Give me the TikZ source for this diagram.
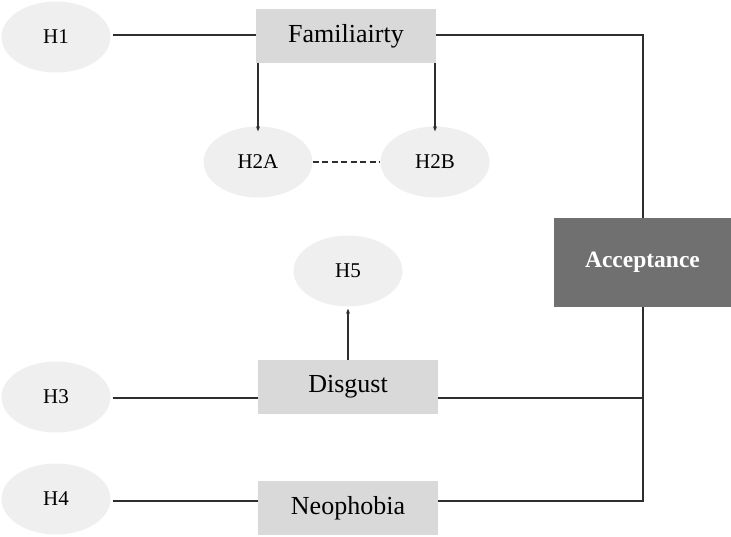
\documentclass[tikz,border=0pt]{standalone}
\usepackage{fontspec}
\setmainfont{Liberation Serif}
\usetikzlibrary{arrows.meta,shapes.geometric}
\definecolor{ellfill}{HTML}{F0EFEF}
\definecolor{boxfill}{HTML}{D9D9D9}
\definecolor{accfill}{HTML}{707070}
\definecolor{linec}{HTML}{2E2E2E}
\begin{document}
\begin{tikzpicture}[x=1pt,y=-1pt,
  hyp/.style={ellipse,fill=ellfill,minimum width=109pt,minimum height=71pt,inner sep=0pt,font=\fontsize{21}{24}\selectfont,text=black},
  factor/.style={rectangle,fill=boxfill,minimum width=180pt,minimum height=54pt,inner sep=0pt,font=\fontsize{26}{29}\selectfont,text=black},
  accbox/.style={rectangle,fill=accfill,minimum width=177pt,minimum height=89pt,inner sep=0pt,font=\bfseries\fontsize{23.5}{26}\selectfont,text=white},
  conn/.style={draw=linec,line width=1.3pt},
  arr/.style={conn,-{Stealth[length=5pt,width=4pt]}}]
\path[use as bounding box] (0,0) rectangle (731,536);
% nodes
\node[hyp] (h1) at (56,37) {H1};
\node[factor] (fam) at (346,36) {Familiairty};
\node[hyp] (h2a) at (258,162) {H2A};
\node[hyp] (h2b) at (435,162) {H2B};
\node[hyp] (h5) at (348,271) {H5};
\node[hyp] (h3) at (56,397) {H3};
\node[factor] (dis) at (348,387) {Disgust};
\node[hyp] (h4) at (56,499) {H4};
\node[factor] (neo) at (348,508) {Neophobia};
\node[accbox] (acc) at (642.5,262.5) {Acceptance};
% helper coordinates
\coordinate (c1) at (643,35);
\coordinate (c3) at (643,398);
\coordinate (c4) at (643,501);
% connectors
\draw[conn] ([xshift=2pt]h1.east |- c1) -- (fam.west |- c1);
\draw[conn] (fam.east |- c1) -- (c1) -- (acc.north -| c1);
\draw[arr,line width=1.1pt] (fam.south -| h2a) -- ([yshift=-5pt]h2a.north);
\draw[arr,line width=1.1pt] (fam.south -| h2b) -- ([yshift=-5pt]h2b.north);
\draw[conn,line width=1.2pt,dash pattern=on 6pt off 3.5pt] (h2a.east) -- (h2b.west);
\draw[arr,line width=1.1pt] (dis.north) -- ([yshift=-2pt]h5.south);
\draw[conn] ([xshift=2pt]h3.east |- c3) -- (dis.west |- c3);
\draw[conn] (dis.east |- c3) -- (c3);
\draw[conn] ([xshift=2pt]h4.east |- c4) -- (neo.west |- c4);
\draw[conn] (neo.east |- c4) -- (c4) -- (acc.south -| c4);
\end{tikzpicture}
\end{document}
